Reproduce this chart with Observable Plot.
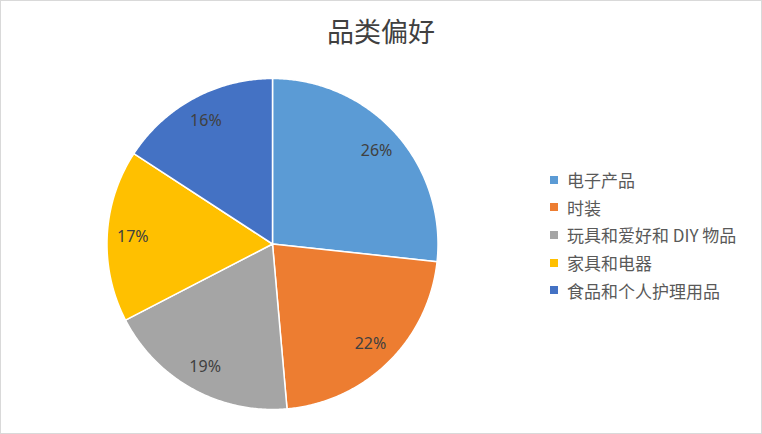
<!DOCTYPE html>
<html><head><meta charset="utf-8">
<script src="https://cdn.jsdelivr.net/npm/d3@7"></script>
<script src="https://cdn.jsdelivr.net/npm/@observablehq/plot@0.6"></script>
<style>
body{margin:0;background:#fff;}
#chart{position:relative;width:762px;height:434px;overflow:hidden;font-family:"Noto Sans CJK SC","Noto Sans",sans-serif;background:#fff;}
#frame{position:absolute;left:0;top:0;width:762px;height:434px;box-sizing:border-box;border:1px solid #d9d9d9;pointer-events:none;}
#title{position:absolute;left:0;top:12px;width:100%;text-align:center;font-size:27px;color:#404040;line-height:38px;}
#plot{position:absolute;left:0;top:0;}
#legend{position:absolute;left:550px;top:166px;}
.item{display:flex;align-items:center;height:27.6px;font-size:17px;color:#595959;white-space:nowrap;}
.sw{width:8px;height:8px;margin-right:9px;flex:none;}
</style></head>
<body>
<div id="chart">
  <div id="plot"></div>
  <div id="title">品类偏好</div>
  <div id="legend"></div>
  <div id="frame"></div>
</div>
<script>
const categories = ["电子产品", "时装", "玩具和爱好和 DIY 物品", "家具和电器", "食品和个人护理用品"];
const shares = [26.7, 21.9, 18.8, 16.8, 15.8];
const labels = ["26%", "22%", "19%", "17%", "16%"];
const colors = ["#5B9BD5", "#ED7D31", "#A5A5A5", "#FFC000", "#4472C4"];

const arcs = d3.pie().sort(null).value(d => d)(shares);
const pt = (a, r) => [r * Math.sin(a), r * Math.cos(a)];

const slices = arcs.map((a, i) => {
  const ring = [[0, 0]];
  const n = Math.max(2, Math.ceil((a.endAngle - a.startAngle) / (Math.PI / 360)));
  for (let k = 0; k <= n; k++) ring.push(pt(a.startAngle + (a.endAngle - a.startAngle) * k / n, 1));
  ring.push([0, 0]);
  return {type: "Feature", properties: {category: categories[i]}, geometry: {type: "Polygon", coordinates: [ring]}};
});

const labelData = arcs.map((a, i) => {
  const m = (a.startAngle + a.endAngle) / 2;
  const [x, y] = pt(m, 0.845);
  return {x, y, text: labels[i]};
});

const plot = Plot.plot({
  width: 762,
  height: 434,
  marginLeft: 106.5,
  marginRight: 324.5,
  marginTop: 78,
  marginBottom: 25,
  projection: {type: "reflect-y", domain: {type: "MultiPoint", coordinates: [[-1, -1], [1, 1]]}, inset: 0},
  color: {domain: categories, range: colors},
  marks: [
    Plot.geo(slices, {fill: d => d.properties.category, stroke: "white", strokeWidth: 1.5, strokeLinejoin: "round"}),
    Plot.text(labelData, {x: "x", y: "y", text: "text", fill: "#404040", fontSize: 16, fontFamily: "'Noto Sans', sans-serif"})
  ]
});
plot.style.background = "transparent";
document.getElementById("plot").appendChild(plot);

const legend = document.getElementById("legend");
categories.forEach((c, i) => {
  const item = document.createElement("div");
  item.className = "item";
  const sw = document.createElement("span");
  sw.className = "sw";
  sw.style.background = colors[i];
  const t = document.createElement("span");
  t.textContent = c;
  item.appendChild(sw);
  item.appendChild(t);
  legend.appendChild(item);
});
</script>
</body></html>
